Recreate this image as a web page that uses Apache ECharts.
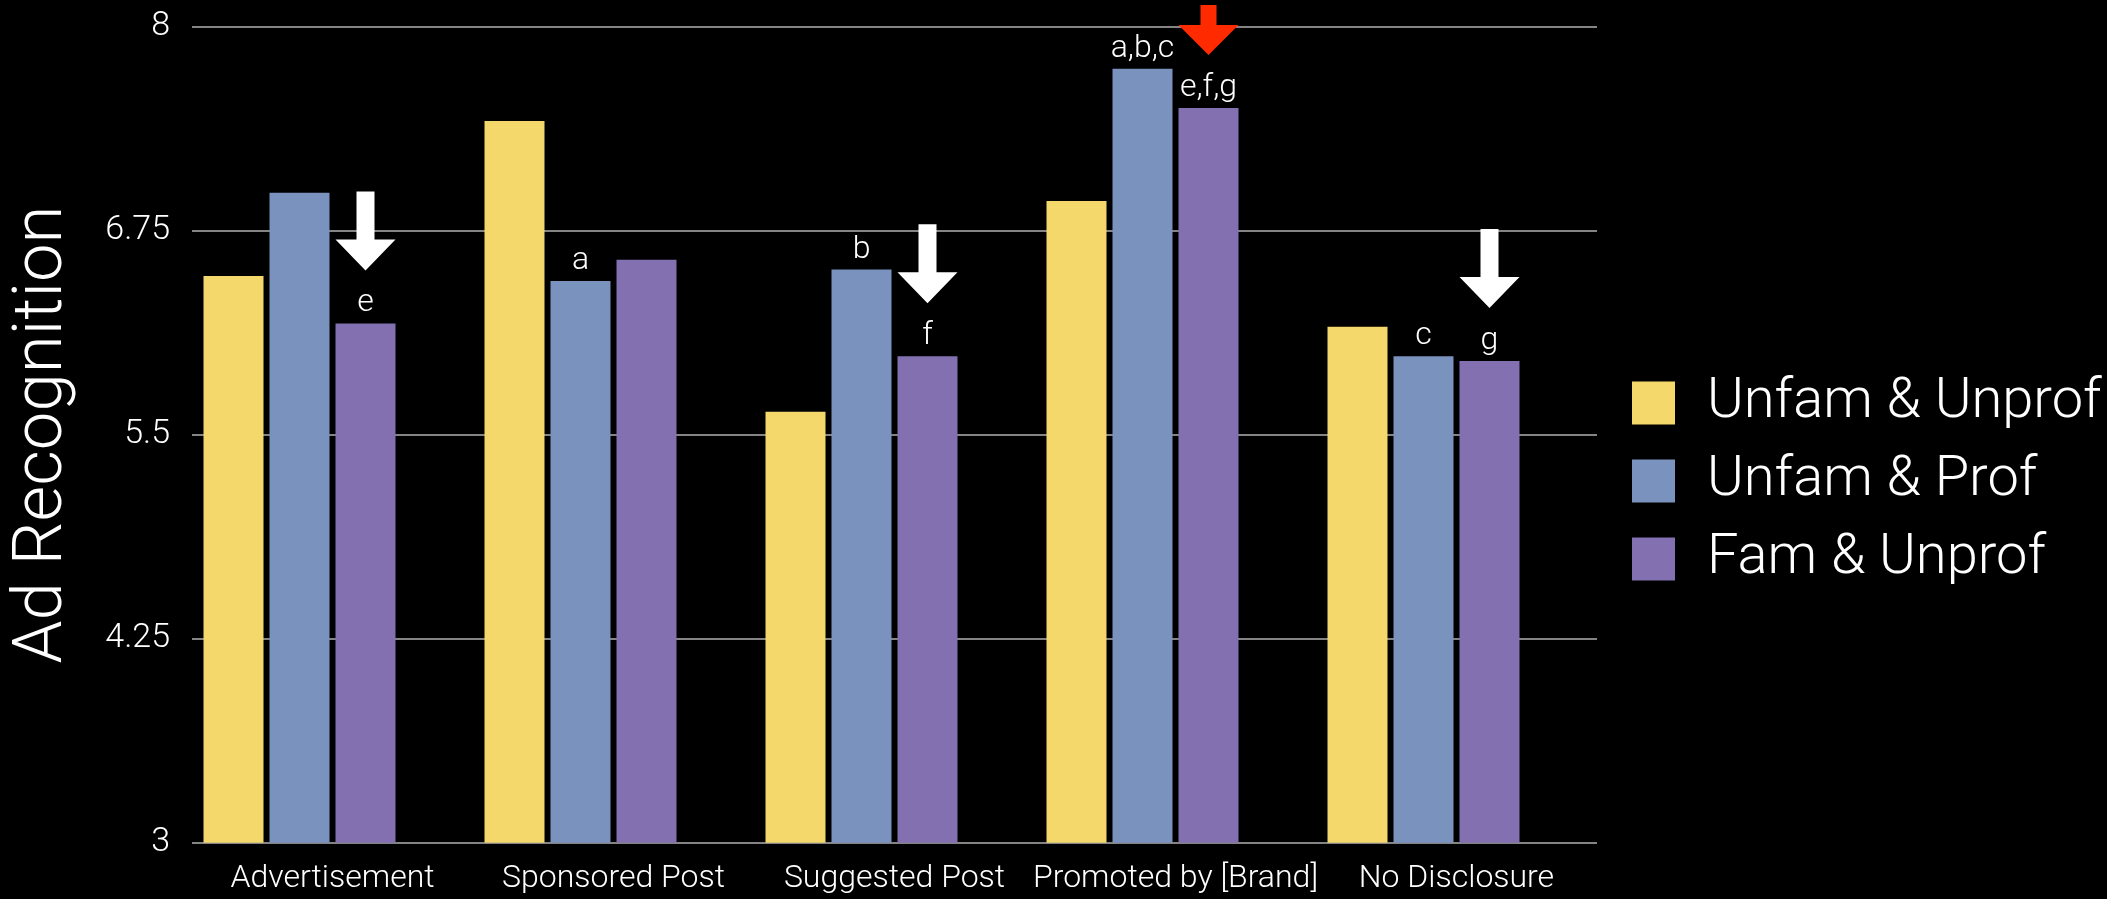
<!DOCTYPE html>
<html>
<head>
<meta charset="utf-8">
<script src="https://cdn.jsdelivr.net/npm/echarts@6/dist/echarts.min.js"></script>
<style>
  html, body { margin: 0; padding: 0; background: #000; }
  #chart { width: 2107px; height: 899px; }
</style>
</head>
<body>
<div id="chart"></div>
<script>
// Disclosure wording conditions on the x axis
const categories = ['Advertisement', 'Sponsored Post', 'Suggested Post', 'Promoted by [Brand]', 'No Disclosure'];
const seriesNames = ['Unfam & Unprof', 'Unfam & Prof', 'Fam & Unprof'];

// Mean ad recognition per condition
const unfamUnprof = [6.47, 7.42, 5.64, 6.93, 6.16];
const unfamProf   = [6.98, 6.44, 6.51, 7.74, 5.98];
const famUnprof   = [6.18, 6.57, 5.98, 7.50, 5.95];

// Significance letters printed above bars
const unfamProfMarks = ['', 'a', 'b', 'a,b,c', 'c'];
const famUnprofMarks = ['e', '', 'f', 'e,f,g', 'g'];

// Y axis ticks
const yMin = 3, yMax = 8, yStep = 1.25;

// Drop arrows placed over the Fam & Unprof bars
const whiteArrowAt = ['Advertisement', 'Suggested Post', 'No Disclosure'];
const redArrowAt = ['Promoted by [Brand]'];

const COLORS = ['#F4D86B', '#7A92BE', '#8270B1'];
const FONT = "Roboto, 'Helvetica Neue', 'Liberation Sans', sans-serif";

const WHITE_ARROW = 'path://M21,0 L39,0 L39,48 L60,48 L30,79 L0,48 L21,48 Z';
const RED_ARROW = 'path://M22,0 L38,0 L38,20 L60,20 L30,50 L0,20 L22,20 Z';

function arrowPoints(names, values) {
  return names.map(n => {
    const i = categories.indexOf(n);
    return { coord: [n, values[i]] };
  });
}

const letterLabel = marks => ({
  show: true,
  position: 'top',
  distance: 4,
  color: '#fff',
  fontSize: 32,
  fontFamily: FONT,
  fontWeight: 300,
  formatter: p => marks[p.dataIndex]
});

const chart = echarts.init(document.getElementById('chart'), null, { renderer: 'canvas' });

chart.setOption({
  backgroundColor: '#000',
  animation: false,
  grid: { left: 192, right: 510, top: 26.3, bottom: 56.3, containLabel: false },
  legend: {
    data: seriesNames,
    orient: 'vertical',
    left: 1627,
    top: 370,
    icon: 'rect',
    itemWidth: 43,
    itemHeight: 43,
    itemGap: 22,
    textStyle: {
      color: '#fff', fontSize: 56, fontFamily: FONT, fontWeight: 300,
      lineHeight: 44, padding: [0, 0, 0, 27]
    }
  },
  xAxis: {
    type: 'category',
    data: categories,
    axisLine: { show: false },
    axisTick: { show: false },
    axisLabel: { color: '#fff', fontSize: 32, fontFamily: FONT, fontWeight: 300, margin: 20, interval: 0 }
  },
  yAxis: {
    type: 'value',
    min: yMin, max: yMax, interval: yStep,
    name: 'Ad Recognition',
    nameLocation: 'middle',
    nameRotate: 90,
    nameGap: 114,
    nameTextStyle: { color: '#fff', fontSize: 69, fontFamily: FONT, fontWeight: 300 },
    axisLine: { show: false },
    axisTick: { show: false },
    axisLabel: { color: '#fff', fontSize: 34, fontFamily: FONT, fontWeight: 300, margin: 22 },
    splitLine: { show: true, lineStyle: { color: '#b0b0b0', width: 1.5 } }
  },
  series: [
    {
      name: seriesNames[0], type: 'bar', data: unfamUnprof,
      barWidth: 60, barGap: '10%',
      itemStyle: { color: COLORS[0] }
    },
    {
      name: seriesNames[1], type: 'bar', data: unfamProf,
      barWidth: 60, barGap: '10%',
      itemStyle: { color: COLORS[1] },
      label: letterLabel(unfamProfMarks)
    },
    {
      name: seriesNames[2], type: 'bar', data: famUnprof,
      barWidth: 60, barGap: '10%',
      itemStyle: { color: COLORS[2] },
      label: letterLabel(famUnprofMarks),
      markPoint: {
        silent: true,
        label: { show: false },
        data: [
          ...arrowPoints(whiteArrowAt, famUnprof).map(d => Object.assign(d, {
            symbol: WHITE_ARROW, symbolSize: [60, 79], symbolKeepAspect: false,
            symbolOffset: [0, -92.5], itemStyle: { color: '#fff' }
          })),
          ...arrowPoints(redArrowAt, famUnprof).map(d => Object.assign(d, {
            symbol: RED_ARROW, symbolSize: [60, 50], symbolKeepAspect: false,
            symbolOffset: [0, -78], itemStyle: { color: '#FF2A00' }
          }))
        ]
      }
    },
    {
      // empty fourth slot in each group, keeps the three bars left of centre
      name: 'slot', type: 'bar', data: [],
      barWidth: 60, barGap: '10%'
    }
  ]
});
</script>
</body>
</html>
